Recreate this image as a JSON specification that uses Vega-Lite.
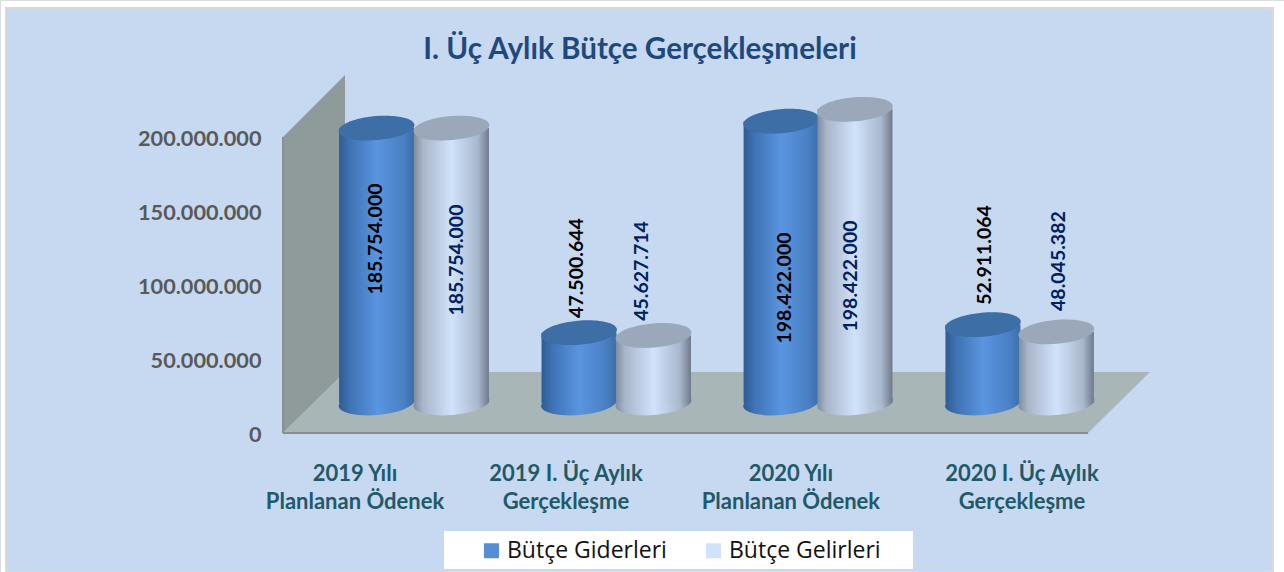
{"$schema":"https://vega.github.io/schema/vega-lite/v6.json","width":1284,"height":572,"padding":0,"autosize":{"type":"none"},"background":"white",
"title":{"text":"I. Üç Aylık Bütçe Gerçekleşmeleri","anchor":"middle","frame":"group","offset":-66,"dx":-2,"font":"Lato","fontWeight":"bold","fontSize":29.6,"color":"#1f497d"},
"datasets":{
"bars":[
{"cat":"2019 Yılı Planlanan Ödenek","series":"Bütçe Giderleri","pos":0.465,"value":185754000,"label":"185.754.000","labelPos":0.462,"labelY":110800000},
{"cat":"2019 Yılı Planlanan Ödenek","series":"Bütçe Gelirleri","pos":0.837,"value":185754000,"label":"185.754.000","labelPos":0.865,"labelY":96600000},
{"cat":"2019 I. Üç Aylık Gerçekleşme","series":"Bütçe Giderleri","pos":1.471,"value":47500644,"label":"47.500.644","labelPos":1.461,"labelY":91200000},
{"cat":"2019 I. Üç Aylık Gerçekleşme","series":"Bütçe Gelirleri","pos":1.841,"value":45627714,"label":"45.627.714","labelPos":1.784,"labelY":89200000},
{"cat":"2020 Yılı Planlanan Ödenek","series":"Bütçe Giderleri","pos":2.475,"value":190400000,"label":"198.422.000","labelPos":2.494,"labelY":77700000},
{"cat":"2020 Yılı Planlanan Ödenek","series":"Bütçe Gelirleri","pos":2.842,"value":198422000,"label":"198.422.000","labelPos":2.822,"labelY":85800000},
{"cat":"2020 I. Üç Aylık Gerçekleşme","series":"Bütçe Giderleri","pos":3.478,"value":52911064,"label":"52.911.064","labelPos":3.488,"labelY":100000000},
{"cat":"2020 I. Üç Aylık Gerçekleşme","series":"Bütçe Gelirleri","pos":3.843,"value":48045382,"label":"48.045.382","labelPos":3.856,"labelY":95900000}],
"wall":[{"pos":0,"top":200000000,"bottom":0},{"pos":0.308,"top":241900000,"bottom":41200000}],
"floor":[{"pos":0,"top":0,"bottom":0},{"pos":0.308,"top":41200000,"bottom":0},{"pos":4,"top":41200000,"bottom":0},{"pos":4.308,"top":41200000,"bottom":41200000}],
"cats":[{"text":"2019 Yılı\nPlanlanan Ödenek","pos":0.358,"y":-27700000},{"text":"2019 I. Üç Aylık\nGerçekleşme","pos":1.406,"y":-27700000},{"text":"2020 Yılı\nPlanlanan Ödenek","pos":2.524,"y":-27700000},{"text":"2020 I. Üç Aylık\nGerçekleşme","pos":3.672,"y":-27700000}]
},
"resolve":{"scale":{"y":"independent"},"axis":{"y":"independent"}},
"layer":[
{"data":{"values":[{"a":-1.376,"b":4.919,"t":287160000,"u":-93919000}]},"mark":{"type":"rect","fill":"#c6d9f1","stroke":"#d9d9d9","strokeWidth":2},
 "encoding":{"x":{"field":"a","type":"quantitative","axis":null,"scale":{"domain":[-1.40621,4.97391],"range":[0,1284],"nice":false,"zero":false,"padding":0}},"x2":{"field":"b"},
 "y":{"field":"t","type":"quantitative","scale":{"domain":[-93919000,292568000],"range":[572,0],"nice":false},"axis":{"values":[0,50000000,100000000,150000000,200000000],"title":null,"offset":-261,"ticks":false,"domain":false,"grid":false,"labelPadding":0,"labelOffset":1,"labelFont":"Lato","labelFontWeight":"bold","labelFontSize":21.7,"labelColor":"#595959","zindex":1,"labelExpr":"replace(format(datum.value,','),/,/g,'.')"}},"y2":{"field":"u"}}},
{"data":{"name":"wall"},"mark":{"type":"area","orient":"vertical","fill":"#8f9a9b"},
 "encoding":{"x":{"field":"pos","type":"quantitative","axis":null},"y":{"field":"top","type":"quantitative","scale":{"domain":[-93919000,292568000],"range":[572,0],"nice":false},"axis":null},"y2":{"field":"bottom"}}},
{"data":{"name":"floor"},"mark":{"type":"area","orient":"vertical","fill":"#a9b6b7"},
 "encoding":{"x":{"field":"pos","type":"quantitative","axis":null},"y":{"field":"top","type":"quantitative","scale":{"domain":[-93919000,292568000],"range":[572,0],"nice":false},"axis":null},"y2":{"field":"bottom"}}},
{"data":{"values":[{"a":0,"b":4,"t":0,"u":0},{"a":0,"b":0,"t":0,"u":200000000}]},"mark":{"type":"rule","stroke":"#8c8f90","strokeWidth":2},
 "encoding":{"x":{"field":"a","type":"quantitative","axis":null},"x2":{"field":"b"},"y":{"field":"t","type":"quantitative","scale":{"domain":[-93919000,292568000],"range":[572,0],"nice":false},"axis":null},"y2":{"field":"u"}}},
{"data":{"values":[{"a":0.8,"b":3.13,"t":-66200000,"u":-91900000}]},"mark":{"type":"rect","fill":"white"},
 "encoding":{"x":{"field":"a","type":"quantitative","axis":null},"x2":{"field":"b"},"y":{"field":"t","type":"quantitative","scale":{"domain":[-93919000,292568000],"range":[572,0],"nice":false},"axis":null},"y2":{"field":"u"}}},
{"data":{"name":"bars"},"transform":[{"filter":"datum.series=='Bütçe Giderleri'"}],"mark":{"type":"point","filled":true,"opacity":1,"size":5776,"angle":-5,"shape":"M-1,0A1,0.316 0 1 1 1,0A1,0.316 0 1 1 -1,0Z","fill":{"gradient":"linear","x1":0,"y1":0,"x2":1,"y2":0,"stops":[{"offset":0,"color":"#2f5b92"},{"offset":0.14,"color":"#3e72b3"},{"offset":0.5,"color":"#5a95e0"},{"offset":0.85,"color":"#4a80c5"},{"offset":1,"color":"#3c6ea8"}]}},
 "encoding":{"x":{"field":"pos","type":"quantitative","axis":null},"y":{"datum":0,"type":"quantitative","scale":{"domain":[-114189000,272297000],"range":[572,0],"nice":false},"axis":null}}},
{"data":{"name":"bars"},"transform":[{"filter":"datum.series=='Bütçe Giderleri'"}],"mark":{"type":"bar","orient":"vertical","size":75,"fill":{"gradient":"linear","x1":0,"y1":0,"x2":1,"y2":0,"stops":[{"offset":0,"color":"#2f5b92"},{"offset":0.14,"color":"#3e72b3"},{"offset":0.5,"color":"#5a95e0"},{"offset":0.85,"color":"#4a80c5"},{"offset":1,"color":"#3c6ea8"}]}},
 "encoding":{"x":{"field":"pos","type":"quantitative","axis":null},"y":{"field":"value","type":"quantitative","scale":{"domain":[-114189000,272297000],"range":[572,0],"nice":false},"axis":null},"y2":{"datum":0}}},
{"data":{"name":"bars"},"transform":[{"filter":"datum.series=='Bütçe Giderleri'"}],"mark":{"type":"point","filled":true,"opacity":1,"size":5776,"angle":-5,"shape":"M-1,0A1,0.316 0 1 1 1,0A1,0.316 0 1 1 -1,0Z","fill":"#3d6ea6"},
 "encoding":{"x":{"field":"pos","type":"quantitative","axis":null},"y":{"field":"value","type":"quantitative","scale":{"domain":[-114189000,272297000],"range":[572,0],"nice":false},"axis":null}}},
{"data":{"name":"bars"},"transform":[{"filter":"datum.series=='Bütçe Gelirleri'"}],"mark":{"type":"point","filled":true,"opacity":1,"size":5776,"angle":-5,"shape":"M-1,0A1,0.316 0 1 1 1,0A1,0.316 0 1 1 -1,0Z","fill":{"gradient":"linear","x1":0,"y1":0,"x2":1,"y2":0,"stops":[{"offset":0,"color":"#7f8b9f"},{"offset":0.12,"color":"#a9b5c9"},{"offset":0.5,"color":"#d0e3fb"},{"offset":0.85,"color":"#a9b8cc"},{"offset":1,"color":"#70798c"}]}},
 "encoding":{"x":{"field":"pos","type":"quantitative","axis":null},"y":{"datum":0,"type":"quantitative","scale":{"domain":[-114189000,272297000],"range":[572,0],"nice":false},"axis":null}}},
{"data":{"name":"bars"},"transform":[{"filter":"datum.series=='Bütçe Gelirleri'"}],"mark":{"type":"bar","orient":"vertical","size":75,"fill":{"gradient":"linear","x1":0,"y1":0,"x2":1,"y2":0,"stops":[{"offset":0,"color":"#7f8b9f"},{"offset":0.12,"color":"#a9b5c9"},{"offset":0.5,"color":"#d0e3fb"},{"offset":0.85,"color":"#a9b8cc"},{"offset":1,"color":"#70798c"}]}},
 "encoding":{"x":{"field":"pos","type":"quantitative","axis":null},"y":{"field":"value","type":"quantitative","scale":{"domain":[-114189000,272297000],"range":[572,0],"nice":false},"axis":null},"y2":{"datum":0}}},
{"data":{"name":"bars"},"transform":[{"filter":"datum.series=='Bütçe Gelirleri'"}],"mark":{"type":"point","filled":true,"opacity":1,"size":5776,"angle":-5,"shape":"M-1,0A1,0.316 0 1 1 1,0A1,0.316 0 1 1 -1,0Z","fill":"#9ba8ba"},
 "encoding":{"x":{"field":"pos","type":"quantitative","axis":null},"y":{"field":"value","type":"quantitative","scale":{"domain":[-114189000,272297000],"range":[572,0],"nice":false},"axis":null}}},
{"data":{"name":"bars"},"mark":{"type":"text","angle":270,"align":"center","baseline":"middle","font":"Lato","fontWeight":"bold","fontSize":19.5},
 "encoding":{"x":{"field":"labelPos","type":"quantitative","axis":null},"y":{"field":"labelY","type":"quantitative","scale":{"domain":[-114189000,272297000],"range":[572,0],"nice":false},"axis":null},"text":{"field":"label"},"fill":{"condition":{"test":"datum.series=='Bütçe Giderleri'","value":"#000000"},"value":"#002060"}}},
{"data":{"name":"cats"},"mark":{"type":"text","lineBreak":"\n","lineHeight":28,"align":"center","baseline":"middle","font":"Lato","fontWeight":"bold","fontSize":22,"fill":"#215968"},
 "encoding":{"x":{"field":"pos","type":"quantitative","axis":null},"y":{"field":"y","type":"quantitative","scale":{"domain":[-93919000,292568000],"range":[572,0],"nice":false},"axis":null},"text":{"field":"text"}}},
{"data":{"name":"bars"},"mark":{"type":"square","size":0},
 "encoding":{"x":{"field":"pos","type":"quantitative","axis":null},"y":{"field":"value","type":"quantitative","scale":{"domain":[-114189000,272297000],"range":[572,0],"nice":false},"axis":null},
 "color":{"field":"series","type":"nominal","scale":{"domain":["Bütçe Giderleri","Bütçe Gelirleri"],"range":["#558ed5","#d0e3fb"]},
 "legend":{"orient":"none","legendX":480,"legendY":539,"direction":"horizontal","title":null,"symbolType":"square","symbolSize":225,"symbolStrokeWidth":0,"symbolOpacity":1,"labelFont":"Open Sans","labelFontSize":23,"labelColor":"#111111","columnPadding":35,"labelLimit":300,"padding":0,"symbolOffset":0}}}}
]}
